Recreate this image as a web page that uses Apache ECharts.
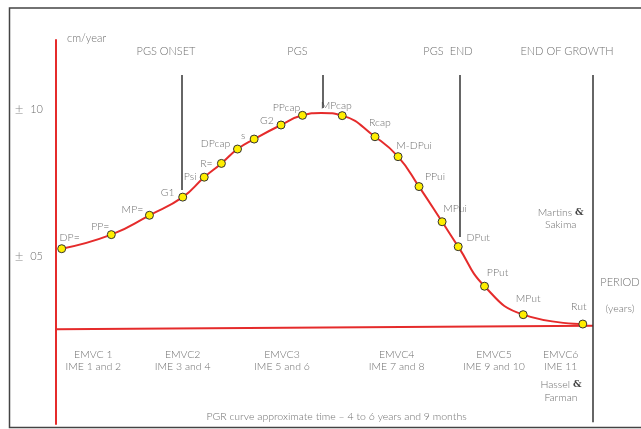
<!DOCTYPE html>
<html>
<head>
<meta charset="utf-8">
<script src="https://cdn.jsdelivr.net/npm/echarts@6/dist/echarts.min.js"></script>
<style>
html,body{margin:0;padding:0;background:#fff;}
#c{width:641px;height:429px;}
</style>
</head>
<body>
<div id="c"></div>
<script>
// ---- data ----
const pointNames = ['DP=','PP=','MP=','G1','Psi','R=','DPcap','s','G2','PPcap','MPcap','Rcap','M-DPui','PPui','MPui','DPut','PPut','MPut','Rut'];
const timePos = [1.06,10.3,17.4,23.6,27.6,30.8,33.8,36.9,41.9,45.9,53.3,59.4,63.7,67.6,71.9,74.9,79.8,87.0,98.1];
const velocity = [5.25,5.73,6.39,7.01,7.69,8.16,8.65,8.99,9.47,9.80,9.79,9.07,8.39,7.37,6.17,5.32,3.97,3.00,2.68];
// curve apex (unmarked)
const apexTime = 49.4;
const apexVelocity = 9.88;
const baselineX = [0,100];
const baselineY = [2.50,2.62];
const phaseNames = ['PGS ONSET','PGS','PGS  END','END OF GROWTH'];
const phaseX = [23.5,49.7,75.2,99.9];
const phaseTop = [11.18,11.18,11.18,11.18];
const phaseBottom = [7.25,10.05,5.65,-0.67];
const yTicks = [5,10];
const yTickText = ['05','10'];
const stageNames = ['EMVC 1','EMVC2','EMVC3','EMVC4','EMVC5','EMVC6'];
const stageIME = ['IME 1 and 2','IME 3 and 4','IME 5 and 6','IME 7 and 8','IME 9 and 10','IME 11'];

// ---- layout (label offsets, pixels) ----
const labelOffsets = [[8,-11],[-11,-8],[-17,-6],[-15,-5],[-14,-1],[-15,0],[-22,-5],[-11,-3],[-14,-4],[-16,-8],[-6,-10],[5,-14],[16,-11],[16,-10],[13,-13],[20,-9],[13,-14],[5,-16],[-4,-17]];
const phaseTitlePx = [166,297.5,448,567];
const stagePx = [93.3,182.7,282,396.7,494,560.7];

const RED = '#e52b2b';
const GRAY = '#6f6f6f';
const FONT = 'Lato';

const markerData = timePos.map((x,i)=>({
  value:[x,velocity[i]],
  label:{show:true,formatter:pointNames[i],position:'inside',offset:labelOffsets[i]}
}));

// smooth curve through the marked points plus the apex
const curvePts = timePos.map((x,i)=>[x,velocity[i]]);
curvePts.push([apexTime,apexVelocity]);
curvePts.sort((a,b)=>a[0]-b[0]);

const phaseLines = phaseX.map((x,i)=>[{coord:[x,phaseTop[i]]},{coord:[x,phaseBottom[i]]}]);

const amp = {fill:'#444',font:'bold 9.5px "DejaVu Serif"'};
const graphics = [
  {type:'rect',shape:{x:9.5,y:8,width:700,height:419.5},style:{fill:'none',stroke:'#444',lineWidth:1.5},silent:true},
  {type:'text',x:67,y:38,style:{text:'cm/year',fill:GRAY,font:'300 11px '+FONT,textAlign:'left',textVerticalAlign:'middle'}},
  {type:'text',x:620,y:282,style:{text:'PERIOD',fill:GRAY,font:'300 11px '+FONT,textAlign:'center',textVerticalAlign:'middle'}},
  {type:'text',x:620,y:309,style:{text:'(years)',fill:GRAY,font:'300 10.5px '+FONT,textAlign:'center',textVerticalAlign:'middle'}},
  {type:'text',x:560.7,y:212.7,style:{text:'{a|Martins }{b|&}',rich:{a:{fill:GRAY,font:'300 10.5px '+FONT},b:amp},textAlign:'center',textVerticalAlign:'middle'}},
  {type:'text',x:560.7,y:225,style:{text:'Sakima',fill:GRAY,font:'300 10.5px '+FONT,textAlign:'center',textVerticalAlign:'middle'}},
  {type:'text',x:561,y:385,style:{text:'{a|Hassel }{b|&}',rich:{a:{fill:GRAY,font:'300 10.5px '+FONT},b:amp},textAlign:'center',textVerticalAlign:'middle'}},
  {type:'text',x:561,y:398,style:{text:'Farman',fill:GRAY,font:'300 10.5px '+FONT,textAlign:'center',textVerticalAlign:'middle'}},
  {type:'text',x:336.5,y:417,style:{text:'PGR curve approximate time \u2013 4 to 6 years and 9 months',fill:GRAY,font:'300 10.5px '+FONT,textAlign:'center',textVerticalAlign:'middle'}}
];
phaseNames.forEach((n,i)=>{
  graphics.push({type:'text',x:phaseTitlePx[i],y:51.7,style:{text:n,fill:GRAY,font:'300 11px '+FONT,textAlign:'center',textVerticalAlign:'middle'}});
});
stageNames.forEach((n,i)=>{
  graphics.push({type:'text',x:stagePx[i],y:355,style:{text:n,fill:GRAY,font:'300 10.5px '+FONT,textAlign:'center',textVerticalAlign:'middle'}});
  graphics.push({type:'text',x:stagePx[i],y:366.5,style:{text:stageIME[i],fill:GRAY,font:'300 10.5px '+FONT,textAlign:'center',textVerticalAlign:'middle'}});
});

const chart = echarts.init(document.getElementById('c'),null,{renderer:'canvas'});
chart.setOption({
  animation:false,
  backgroundColor:'#fff',
  grid:{left:56,right:48,top:40,bottom:5,containLabel:false},
  xAxis:{type:'value',min:0,max:100,show:false},
  yAxis:{
    type:'value',min:-0.73,max:12.37,
    splitLine:{show:false},
    axisTick:{show:false},
    axisLine:{show:true,lineStyle:{color:RED,width:2}},
    axisLabel:{
      show:true,margin:13,customValues:yTicks,
      formatter:function(v){const i=yTicks.indexOf(v);return '{pm|\u00b1}  {v|'+(i>=0?yTickText[i]:v)+'}';},
      rich:{pm:{fontSize:15,color:'#8a8a8a',fontFamily:FONT,fontWeight:300},v:{fontSize:11,color:GRAY,fontFamily:FONT,fontWeight:300}}
    }
  },
  graphic:graphics,
  series:[
    {
      type:'line',
      data:baselineX.map((x,i)=>[x,baselineY[i]]),
      showSymbol:false,symbol:'none',
      lineStyle:{color:RED,width:2},
      silent:true,z:2
    },
    {
      type:'line',
      data:curvePts,
      smooth:0.5,
      symbol:'none',
      lineStyle:{color:RED,width:2},
      markLine:{
        silent:true,symbol:['none','none'],
        label:{show:false},
        lineStyle:{color:'#333',width:1.5,type:'solid'},
        data:phaseLines
      },
      z:3
    },
    {
      type:'scatter',
      data:markerData,
      symbol:'circle',symbolSize:8,
      itemStyle:{color:'#ffee00',borderColor:'#333',borderWidth:1,opacity:1},
      label:{color:GRAY,fontSize:10.5,fontFamily:FONT,fontWeight:300},
      z:4
    }
  ]
});
</script>
</body>
</html>
